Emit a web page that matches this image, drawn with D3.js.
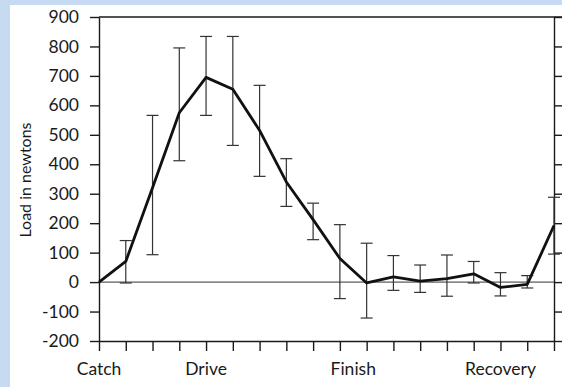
<!DOCTYPE html>
<html>
<head>
<meta charset="utf-8">
<script src="https://cdn.jsdelivr.net/npm/d3@7"></script>
<style>
  html, body { margin: 0; padding: 0; background: #c6dbf1; }
  svg { display: block; }
</style>
</head>
<body>
<svg width="562" height="387"></svg>
<script>
// stroke positions (tick index along the stroke cycle)
const steps = [0, 1, 2, 3, 4, 5, 6, 7, 8, 9, 10, 11, 12, 13, 14, 15, 16, 17];
// mean load in newtons
const load = [0, 70, 320, 575, 695, 655, 515, 340, 212, 80, -3, 18, 3, 12, 28, -18, -8, 192];
// error bar ends
const upper = [null, 141, 566, 795, 834, 834, 668, 419, 268, 195, 132, 90, 58, 92, 70, 32, 22, 288];
const lower = [null, -3, 93, 412, 566, 464, 359, 257, 144, -56, -122, -28, -35, -48, -3, -47, -20, 95];

const yTicks = [900, 800, 700, 600, 500, 400, 300, 200, 100, 0, -100, -200];
const phaseNames = ["Catch", "Drive", "Finish", "Recovery"];
const phasePos = [0, 4, 9.5, 15];

const svg = d3.select("svg"),
	width = +svg.attr("width"),
	height = +svg.attr("height");

const font = "Lato, 'Noto Sans', sans-serif";
const ink = "#1a1a1a";

// white paper panel
svg.append("rect")
	.attr("x", 10).attr("y", 5)
	.attr("width", width - 10).attr("height", height - 5)
	.attr("fill", "#fff");

const x = d3.scaleLinear().domain([0, 17]).range([99, 554]);
const y = d3.scaleLinear().domain([-200, 900]).range([341, 17]);

function styleAxis(g){
	g.selectAll("path, line").attr("stroke", ink).attr("stroke-width", 1.4);
	g.selectAll("text").attr("fill", ink).attr("font-family", font);
}

// left axis
svg.append("g")
	.attr("transform", `translate(${x(0)},0)`)
	.call(d3.axisLeft(y).tickValues(yTicks).tickSize(9).tickSizeOuter(0).tickPadding(11).tickFormat(d => d < 0 ? "-" + Math.abs(d) : d))
	.call(styleAxis)
	.attr("font-size", "17.5px");

// right axis, ticks only
svg.append("g")
	.attr("transform", `translate(${x(17)},0)`)
	.call(d3.axisRight(y).tickValues(yTicks).tickSize(9).tickSizeOuter(0).tickFormat(""))
	.call(styleAxis);

// bottom axis, ticks only
svg.append("g")
	.attr("transform", `translate(0,${y(-200)})`)
	.call(d3.axisBottom(x).tickValues(steps).tickSize(10).tickSizeOuter(0).tickFormat(""))
	.call(styleAxis);

// top frame line
svg.append("line")
	.attr("x1", x(0)).attr("x2", width)
	.attr("y1", y(900)).attr("y2", y(900))
	.attr("stroke", ink).attr("stroke-width", 1.4);

// zero line
svg.append("line")
	.attr("x1", x(0)).attr("x2", x(17))
	.attr("y1", y(0)).attr("y2", y(0))
	.attr("stroke", "#333").attr("stroke-width", 1);

// phase labels
svg.append("g")
	.selectAll("text")
	.data(phaseNames)
	.join("text")
	.attr("x", (d, i) => x(phasePos[i]))
	.attr("y", 375)
	.attr("text-anchor", "middle")
	.attr("font-family", font)
	.attr("font-size", "17.5px")
	.attr("fill", ink)
	.text(d => d);

// y title
svg.append("text")
	.attr("transform", "translate(31,180) rotate(-90)")
	.attr("text-anchor", "middle")
	.attr("font-family", font)
	.attr("font-size", "16px")
	.attr("fill", ink)
	.text("Load in newtons");

// error bars
const bars = steps.map((s, i) => ({ s, hi: upper[i], lo: lower[i] })).filter(d => d.hi != null);
const eb = svg.append("g").attr("stroke", "#333").attr("stroke-width", 1.2).attr("fill", "none");
eb.selectAll(".v").data(bars).join("line")
	.attr("x1", d => x(d.s)).attr("x2", d => x(d.s))
	.attr("y1", d => y(d.hi)).attr("y2", d => y(d.lo));
eb.selectAll(".t").data(bars).join("line")
	.attr("x1", d => x(d.s) - 6).attr("x2", d => x(d.s) + 6)
	.attr("y1", d => y(d.hi)).attr("y2", d => y(d.hi));
eb.selectAll(".b").data(bars).join("line")
	.attr("x1", d => x(d.s) - 6).attr("x2", d => x(d.s) + 6)
	.attr("y1", d => y(d.lo)).attr("y2", d => y(d.lo));

// mean load line
const line = d3.line().x((d, i) => x(steps[i])).y(d => y(d));
svg.append("path")
	.datum(load)
	.attr("d", line)
	.attr("fill", "none")
	.attr("stroke", "#111")
	.attr("stroke-width", 2.8)
	.attr("stroke-linejoin", "round");
</script>
</body>
</html>
